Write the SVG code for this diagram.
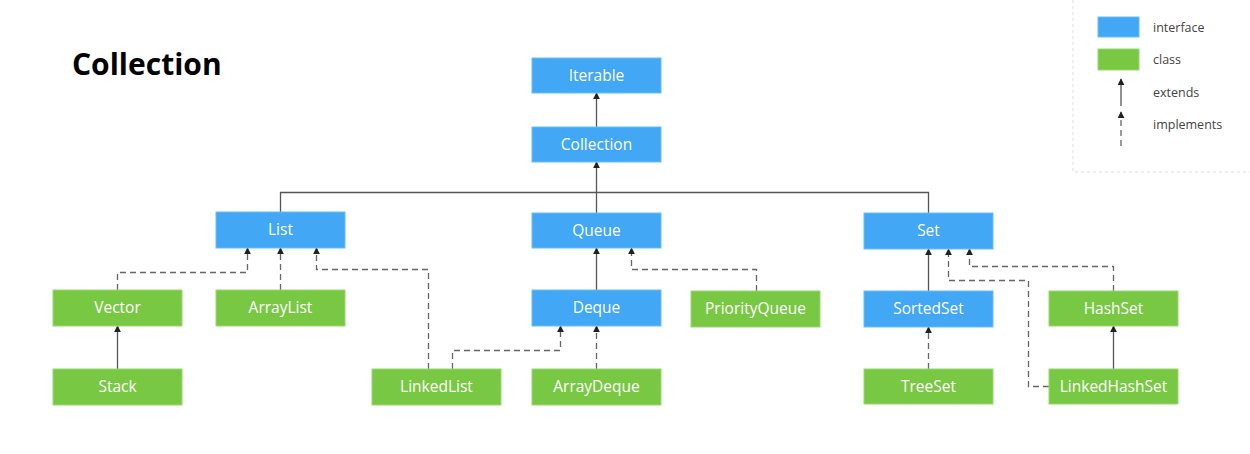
<svg xmlns="http://www.w3.org/2000/svg" width="1250" height="454" viewBox="0 0 1250 454">
  <defs>
    <marker id="arrow" viewBox="0 0 10 10" refX="9" refY="5" markerWidth="7" markerHeight="7" markerUnits="userSpaceOnUse" orient="auto">
      <path d="M0,0 L10,5 L0,10 Z" fill="#222"/>
    </marker>
    <style>
      .iface { fill: #42A7F5; stroke: #6BBDF7; stroke-width: 1; }
      .cls { fill: #79C843; stroke: #9AD772; stroke-width: 1; }
      .label { font-family: "Open Sans", "Liberation Sans", sans-serif; font-size: 15.5px; fill: #fff; text-anchor: middle; }
      .solid { fill: none; stroke: #555; stroke-width: 1.3; }
      .dashed { fill: none; stroke: #666; stroke-width: 1.3; stroke-dasharray: 6 4; }
      .legend-text { font-family: "Open Sans", "Liberation Sans", sans-serif; font-size: 12.5px; fill: #444; }
    </style>
  </defs>
  <rect width="1250" height="454" fill="#fff"/>

  <!-- title -->
  <text x="72" y="75" font-family="Open Sans, Liberation Sans, sans-serif" font-size="30" font-weight="bold" fill="#000">Collection</text>

  <!-- legend -->
  <g id="legend">
    <path d="M1073,0 V172 H1250" fill="none" stroke="#ddd" stroke-width="1" stroke-dasharray="3 3"/>
    <rect x="1098" y="17" width="41" height="20" class="iface"/>
    <rect x="1098" y="49" width="41" height="21" class="cls"/>
    <text x="1153" y="32" class="legend-text">interface</text>
    <text x="1153" y="64" class="legend-text">class</text>
    <text x="1153" y="97" class="legend-text">extends</text>
    <text x="1153" y="129" class="legend-text">implements</text>
    <line x1="1121" y1="106" x2="1121" y2="79" class="solid" marker-end="url(#arrow)"/>
    <line x1="1121" y1="146" x2="1121" y2="112" class="dashed" stroke-dasharray="5 4" marker-end="url(#arrow)"/>
  </g>

  <!-- connectors -->
  <g id="connectors">
    <!-- extends -->
    <line x1="596.5" y1="127" x2="596.5" y2="93" class="solid" marker-end="url(#arrow)"/>
    <line x1="596.5" y1="213" x2="596.5" y2="162" class="solid" marker-end="url(#arrow)"/>
    <path d="M280.5,212 V192.5 H928.5 V213" class="solid"/>
    <line x1="596.5" y1="290" x2="596.5" y2="248" class="solid" marker-end="url(#arrow)"/>
    <line x1="928.5" y1="291" x2="928.5" y2="249" class="solid" marker-end="url(#arrow)"/>
    <line x1="1113.5" y1="369" x2="1113.5" y2="326" class="solid" marker-end="url(#arrow)"/>
    <line x1="117.5" y1="369" x2="117.5" y2="326" class="solid" marker-end="url(#arrow)"/>
    <!-- implements -->
    <path d="M117.5,290 V272.5 H247.5 V248" class="dashed" marker-end="url(#arrow)"/>
    <line x1="280.5" y1="290" x2="280.5" y2="248" class="dashed" marker-end="url(#arrow)"/>
    <path d="M428.5,369 V269.5 H316.5 V248" class="dashed" marker-end="url(#arrow)"/>
    <path d="M452.5,369 V350.5 H560.5 V326" class="dashed" marker-end="url(#arrow)"/>
    <line x1="596.5" y1="369" x2="596.5" y2="326" class="dashed" marker-end="url(#arrow)"/>
    <path d="M756.5,291 V269.5 H631.5 V248" class="dashed" marker-end="url(#arrow)"/>
    <line x1="928.5" y1="369" x2="928.5" y2="327" class="dashed" marker-end="url(#arrow)"/>
    <path d="M1113.5,291 V266.5 H969.5 V249" class="dashed" marker-end="url(#arrow)"/>
    <path d="M1049,386.5 H1028.5 V280.5 H948.5 V249" class="dashed" marker-end="url(#arrow)"/>
  </g>

  <!-- interfaces -->
  <g id="iterable"><rect x="532" y="58" width="129" height="35" class="iface"/><text x="596.5" y="81" class="label">Iterable</text></g>
  <g id="collection"><rect x="532" y="127" width="129" height="35" class="iface"/><text x="596.5" y="150" class="label">Collection</text></g>
  <g id="list"><rect x="216" y="212" width="129" height="36" class="iface"/><text x="280.5" y="235" class="label">List</text></g>
  <g id="queue"><rect x="532" y="213" width="129" height="35" class="iface"/><text x="596.5" y="236" class="label">Queue</text></g>
  <g id="set"><rect x="864" y="213" width="129" height="36" class="iface"/><text x="928.5" y="236" class="label">Set</text></g>
  <g id="deque"><rect x="532" y="290" width="129" height="36" class="iface"/><text x="596.5" y="313" class="label">Deque</text></g>
  <g id="sortedset"><rect x="864" y="291" width="129" height="36" class="iface"/><text x="928.5" y="314" class="label">SortedSet</text></g>

  <!-- classes -->
  <g id="vector"><rect x="53" y="290" width="129" height="36" class="cls"/><text x="117.5" y="313" class="label">Vector</text></g>
  <g id="arraylist"><rect x="216" y="290" width="129" height="36" class="cls"/><text x="280.5" y="313" class="label">ArrayList</text></g>
  <g id="priorityqueue"><rect x="691" y="291" width="129" height="36" class="cls"/><text x="755.5" y="314" class="label">PriorityQueue</text></g>
  <g id="hashset"><rect x="1049" y="291" width="129" height="35" class="cls"/><text x="1113.5" y="314" class="label">HashSet</text></g>
  <g id="stack"><rect x="53" y="369" width="129" height="36" class="cls"/><text x="117.5" y="392" class="label">Stack</text></g>
  <g id="linkedlist"><rect x="372" y="369" width="129" height="36" class="cls"/><text x="436.5" y="392" class="label">LinkedList</text></g>
  <g id="arraydeque"><rect x="532" y="369" width="129" height="36" class="cls"/><text x="596.5" y="392" class="label">ArrayDeque</text></g>
  <g id="treeset"><rect x="864" y="369" width="129" height="35" class="cls"/><text x="928.5" y="392" class="label">TreeSet</text></g>
  <g id="linkedhashset"><rect x="1049" y="369" width="129" height="35" class="cls"/><text x="1113.5" y="392" class="label">LinkedHashSet</text></g>
</svg>
